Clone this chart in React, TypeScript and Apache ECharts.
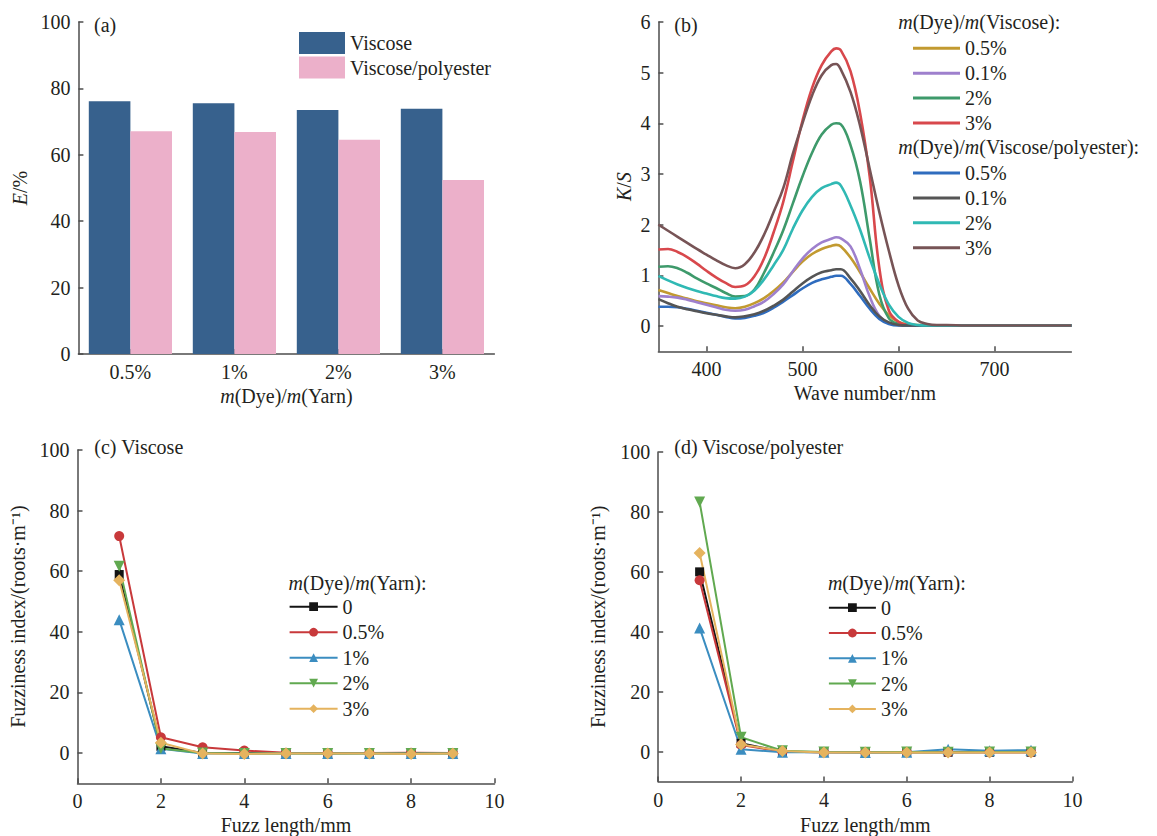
import React, { useEffect, useRef } from 'react';
import * as echarts from 'echarts';

const FONT = "'Liberation Serif', 'Times New Roman', Times, serif";
const TXT = '#231f20';
const AX = '#4d4d4d';

// ---- Panel (a) ----
const dyeCategories = ['0.5%', '1%', '2%', '3%'];
const viscoseE = [76.1, 75.5, 73.5, 73.9];
const blendE = [67.1, 66.9, 64.5, 52.4];

// ---- Panel (b) ----
const waveNm = [350, 360, 370, 380, 390, 400, 410, 420, 430, 440, 450, 460, 470, 480, 490, 500, 510, 520, 530, 535, 540, 550, 560, 570, 580, 590, 600, 610, 620, 630, 640, 650, 670, 700, 780];
const ksV05 = [0.71, 0.65, 0.59, 0.54, 0.49, 0.45, 0.41, 0.37, 0.35, 0.38, 0.45, 0.55, 0.69, 0.86, 1.07, 1.27, 1.42, 1.52, 1.58, 1.6, 1.57, 1.35, 1.06, 0.74, 0.44, 0.21, 0.08, 0.03, 0.02, 0.01, 0.01, 0.01, 0.01, 0.01, 0.01];
const ksV01 = [0.59, 0.58, 0.56, 0.52, 0.47, 0.42, 0.37, 0.32, 0.3, 0.32, 0.39, 0.48, 0.63, 0.82, 1.08, 1.33, 1.52, 1.65, 1.72, 1.75, 1.73, 1.57, 1.12, 0.58, 0.2, 0.05, 0.02, 0.01, 0.01, 0.01, 0.01, 0.01, 0.01, 0.01, 0.01];
const ksV2 = [1.17, 1.18, 1.14, 1.05, 0.94, 0.84, 0.75, 0.65, 0.58, 0.59, 0.72, 1.05, 1.45, 1.89, 2.42, 2.95, 3.42, 3.78, 3.97, 4.0, 3.98, 3.57, 2.85, 1.72, 0.62, 0.15, 0.04, 0.01, 0.01, 0.01, 0.01, 0.01, 0.01, 0.01, 0.01];
const ksV3 = [1.51, 1.52, 1.46, 1.36, 1.23, 1.09, 0.96, 0.85, 0.77, 0.8, 0.98, 1.33, 1.85, 2.45, 3.25, 4.05, 4.7, 5.15, 5.42, 5.48, 5.44, 5.03, 4.2, 2.95, 1.15, 0.3, 0.08, 0.02, 0.01, 0.01, 0.01, 0.01, 0.01, 0.01, 0.01];
const ksP05 = [0.38, 0.38, 0.37, 0.34, 0.3, 0.26, 0.22, 0.18, 0.15, 0.16, 0.2, 0.26, 0.36, 0.48, 0.61, 0.74, 0.85, 0.92, 0.97, 0.99, 0.99, 0.83, 0.59, 0.34, 0.14, 0.04, 0.01, 0.01, 0.01, 0.01, 0.01, 0.01, 0.01, 0.01, 0.01];
const ksP01 = [0.53, 0.45, 0.38, 0.33, 0.29, 0.25, 0.22, 0.19, 0.17, 0.19, 0.23, 0.3, 0.4, 0.52, 0.68, 0.84, 0.97, 1.06, 1.1, 1.12, 1.12, 0.94, 0.69, 0.41, 0.19, 0.07, 0.02, 0.01, 0.01, 0.01, 0.01, 0.01, 0.01, 0.01, 0.01];
const ksP2 = [0.99, 0.9, 0.82, 0.75, 0.69, 0.64, 0.59, 0.55, 0.54, 0.58, 0.7, 0.92, 1.2, 1.5, 1.92, 2.28, 2.55, 2.72, 2.8, 2.83, 2.77, 2.38, 1.9, 1.34, 0.83, 0.42, 0.18, 0.06, 0.02, 0.01, 0.01, 0.01, 0.01, 0.01, 0.01];
const ksP3 = [2.0, 1.88, 1.76, 1.64, 1.52, 1.41, 1.3, 1.2, 1.14, 1.22, 1.45, 1.8, 2.25, 2.72, 3.4, 4.0, 4.55, 4.95, 5.15, 5.17, 5.06, 4.62, 3.95, 3.1, 2.25, 1.48, 0.8, 0.34, 0.11, 0.04, 0.02, 0.02, 0.01, 0.01, 0.01];
const ksLabels = ['0.5%', '0.1%', '2%', '3%'];
const waveTicks = [400, 500, 600, 700];
const ksTicks = [0, 1, 2, 3, 4, 5, 6];

// ---- Panels (c) and (d) ----
const fuzzLength = [1, 2, 3, 4, 5, 6, 7, 8, 9];
const fuzzLabels = ['0', '0.5%', '1%', '2%', '3%'];
const cFuzz0 = [58.9, 2.2, 0, 0, 0, -0.1, 0, 0, 0];
const cFuzz05 = [71.6, 5.2, 1.9, 0.8, 0.1, 0, 0, 0.1, 0];
const cFuzz1 = [44, 1.4, -0.2, -0.2, -0.2, -0.2, -0.2, -0.2, -0.2];
const cFuzz2 = [61.6, 1.5, 0, -0.2, -0.2, -0.2, -0.2, -0.2, -0.2];
const cFuzz3 = [57, 3.4, -0.2, -0.3, -0.2, -0.2, -0.2, -0.3, -0.2];
const dFuzz0 = [60, 2.8, 0, -0.2, -0.2, -0.2, -0.2, -0.2, -0.2];
const dFuzz05 = [57.2, 2.2, 0, -0.2, -0.2, -0.2, -0.2, -0.2, -0.2];
const dFuzz1 = [41.3, 0.8, -0.2, -0.2, -0.3, -0.2, 0.8, 0.3, 0.5];
const dFuzz2 = [83.3, 4.8, 0.3, -0.1, -0.2, -0.1, -0.2, -0.1, -0.1];
const dFuzz3 = [66.3, 2.4, 0.2, -0.3, -0.3, -0.3, -0.3, -0.3, -0.3];
const fuzzYTicks = [0, 20, 40, 60, 80, 100];
const fuzzXTicks = [0, 2, 4, 6, 8, 10];

const ksColorsV = ['#c29a30', '#9e80cd', '#3e9a6b', '#d8484c'];
const ksColorsP = ['#2f6cbe', '#555555', '#30b9b4', '#775456'];
const fuzzColors = ['#141414', '#c8393b', '#3b8dc0', '#61a950', '#e5b35e'];
const fuzzSymbols = ['rect', 'circle', 'triangle', 'triangle', 'diamond'];
const fuzzSymbolSize = [9, 10, 11, 11, 12];
const fuzzSymbolRotate = [0, 0, 0, 180, 0];

const baseText = { fontFamily: FONT, fontSize: 20, color: TXT };
const serifRich = {
  i: { fontFamily: FONT, fontSize: 20, color: TXT, fontStyle: 'italic' },
  n: { fontFamily: FONT, fontSize: 20, color: TXT },
};
const richName = (n: string) => '{n|' + n.split('|')[1] + '}';

function axisCommon() {
  return {
    axisLine: { show: true, onZero: false, lineStyle: { color: AX, width: 1.5 } },
    axisTick: { show: true, inside: true, length: 5, lineStyle: { color: AX, width: 1.5 } },
    axisLabel: { ...baseText, margin: 8, rich: serifRich },
    splitLine: { show: false },
    nameTextStyle: { ...baseText, rich: serifRich },
    nameLocation: 'middle' as const,
  };
}

function valueAxis(gridIndex: number, min: number, max: number, ticks: number[], name: string, nameGap: number, rotate: boolean) {
  const c = axisCommon();
  return {
    ...c,
    type: 'value',
    gridIndex,
    min,
    max,
    name,
    nameGap,
    nameRotate: rotate ? 90 : 0,
    axisTick: { ...c.axisTick, customValues: ticks },
    axisLabel: {
      ...c.axisLabel,
      customValues: ticks,
      formatter: (v: number) => (ticks.indexOf(v) >= 0 ? '{n|' + v + '}' : ''),
    },
  };
}

function buildOption() {
  const grids = [
    { left: 78.4, top: 22, width: 416, height: 332 },
    { left: 658.4, top: 22, width: 413, height: 329.3 },
    { left: 77.5, top: 450, width: 417, height: 333.3 },
    { left: 658.2, top: 452, width: 414.2, height: 329.6 },
  ].map((g) => ({ ...g, containLabel: false, outerBoundsMode: 'none' }));

  const ca = axisCommon();
  const xAxes: any[] = [
    {
      ...ca,
      type: 'category',
      gridIndex: 0,
      data: dyeCategories,
      name: '{i|m}(Dye)/{i|m}(Yarn)',
      nameGap: 32,
      axisTick: { ...ca.axisTick, alignWithLabel: true },
      axisLabel: { ...ca.axisLabel, formatter: (v: string) => '{n|' + v + '}' },
    },
    valueAxis(1, 350, 780, waveTicks, 'Wave number/nm', 32, false),
    valueAxis(2, 0, 10, fuzzXTicks, 'Fuzz length/mm', 31.5, false),
    valueAxis(3, 0, 10, fuzzXTicks, 'Fuzz length/mm', 33, false),
  ];
  const yAxes: any[] = [
    valueAxis(0, 0, 100, fuzzYTicks, '{i|E}/%', 48, true),
    valueAxis(1, -0.5, 6, ksTicks, '{i|K}/{i|S}', 24, true),
    valueAxis(2, -10, 100, fuzzYTicks, 'Fuzziness index/(roots·m⁻¹)', 50, true),
    valueAxis(3, -10, 100, fuzzYTicks, 'Fuzziness index/(roots·m⁻¹)', 50, true),
  ];

  const series: any[] = [];
  series.push({
    type: 'bar', name: 'Viscose', xAxisIndex: 0, yAxisIndex: 0, data: viscoseE,
    barGap: '0%', barCategoryGap: '20%', itemStyle: { color: '#37618d' },
  });
  series.push({
    type: 'bar', name: 'Viscose/polyester', xAxisIndex: 0, yAxisIndex: 0, data: blendE,
    barGap: '0%', barCategoryGap: '20%', itemStyle: { color: '#ecb0ca' },
  });

  const ksV = [ksV05, ksV01, ksV2, ksV3];
  const ksP = [ksP05, ksP01, ksP2, ksP3];
  const namesV: string[] = [];
  const namesP: string[] = [];
  ksV.forEach((arr, i) => {
    const name = 'V|' + ksLabels[i];
    namesV.push(name);
    series.push({
      type: 'line', name, xAxisIndex: 1, yAxisIndex: 1, smooth: 0.4, symbol: 'none',
      data: waveNm.map((w, k) => [w, arr[k]]),
      lineStyle: { color: ksColorsV[i], width: 2.6 }, itemStyle: { color: ksColorsV[i] },
    });
  });
  ksP.forEach((arr, i) => {
    const name = 'P|' + ksLabels[i];
    namesP.push(name);
    series.push({
      type: 'line', name, xAxisIndex: 1, yAxisIndex: 1, smooth: 0.4, symbol: 'none',
      data: waveNm.map((w, k) => [w, arr[k]]),
      lineStyle: { color: ksColorsP[i], width: 2.6 }, itemStyle: { color: ksColorsP[i] },
    });
  });

  const cSets = [cFuzz0, cFuzz05, cFuzz1, cFuzz2, cFuzz3];
  const dSets = [dFuzz0, dFuzz05, dFuzz1, dFuzz2, dFuzz3];
  const namesC: string[] = [];
  const namesD: string[] = [];
  const addFuzz = (sets: number[][], prefix: string, axis: number, names: string[]) => {
    sets.forEach((arr, i) => {
      const name = prefix + '|' + fuzzLabels[i];
      names.push(name);
      series.push({
        type: 'line', name, xAxisIndex: axis, yAxisIndex: axis,
        data: fuzzLength.map((x, k) => [x, arr[k]]),
        symbol: fuzzSymbols[i], symbolSize: fuzzSymbolSize[i], symbolRotate: fuzzSymbolRotate[i],
        showSymbol: true,
        lineStyle: { color: fuzzColors[i], width: 2 }, itemStyle: { color: fuzzColors[i] },
      });
    });
  };
  addFuzz(cSets, 'c', 2, namesC);
  addFuzz(dSets, 'd', 3, namesD);

  const legendText = { ...baseText, lineHeight: 20, rich: serifRich };
  const legend: any[] = [
    {
      data: ['Viscose', 'Viscose/polyester'], left: 299, top: 32, orient: 'vertical',
      itemWidth: 46, itemHeight: 22, itemGap: 2.5, padding: 0, icon: 'rect',
      formatter: (n: string) => '{n|' + n + '}',
      textStyle: { ...baseText, lineHeight: 22, rich: serifRich }, selectedMode: false,
    },
    {
      data: namesV, left: 913, top: 38.3, orient: 'vertical', itemWidth: 47, itemHeight: 3,
      icon: 'rect', itemGap: 4.9, padding: 0, formatter: richName, textStyle: legendText, selectedMode: false,
    },
    {
      data: namesP, left: 913, top: 163, orient: 'vertical', itemWidth: 47, itemHeight: 3,
      icon: 'rect', itemGap: 4.9, padding: 0, formatter: richName, textStyle: legendText, selectedMode: false,
    },
    {
      data: namesC, left: 288.6, top: 596.7, orient: 'vertical', itemWidth: 48, itemHeight: 11,
      itemGap: 5.5, padding: 0, formatter: richName, textStyle: legendText, selectedMode: false,
    },
    {
      data: namesD, left: 827.9, top: 597.7, orient: 'vertical', itemWidth: 47, itemHeight: 11,
      itemGap: 5.3, padding: 0, formatter: richName, textStyle: legendText, selectedMode: false,
    },
  ];

  const txt = (x: number, y: number, text: string) => ({
    type: 'text', x, y, silent: true,
    style: {
      text, fill: TXT, fontFamily: FONT, fontSize: 20, verticalAlign: 'middle', align: 'left',
      rich: { i: { fontFamily: FONT, fontSize: 20, fill: TXT, fontStyle: 'italic' } },
    },
  });

  const graphic = [
    txt(94, 25, '(a)'),
    txt(674.3, 25, '(b)'),
    txt(94.3, 447, '(c) Viscose'),
    txt(674.3, 447, '(d) Viscose/polyester'),
    txt(898.2, 22, '{i|m}(Dye)/{i|m}(Viscose):'),
    txt(898.2, 147.3, '{i|m}(Dye)/{i|m}(Viscose/polyester):'),
    txt(288.6, 582.7, '{i|m}(Dye)/{i|m}(Yarn):'),
    txt(827.9, 583, '{i|m}(Dye)/{i|m}(Yarn):'),
  ];

  return {
    animation: false,
    backgroundColor: '#ffffff',
    textStyle: { fontFamily: FONT },
    grid: grids,
    xAxis: xAxes,
    yAxis: yAxes,
    legend,
    series,
    graphic,
  };
}

export default function App() {
  const ref = useRef<HTMLDivElement>(null);
  useEffect(() => {
    if (!ref.current) return;
    const chart = echarts.init(ref.current, null, { renderer: 'svg' });
    chart.setOption(buildOption() as any);
    return () => chart.dispose();
  }, []);
  return (
    <div
      ref={ref}
      style={{ position: 'fixed', left: 0, top: 0, width: 1157, height: 836, background: '#fff' }}
    />
  );
}
